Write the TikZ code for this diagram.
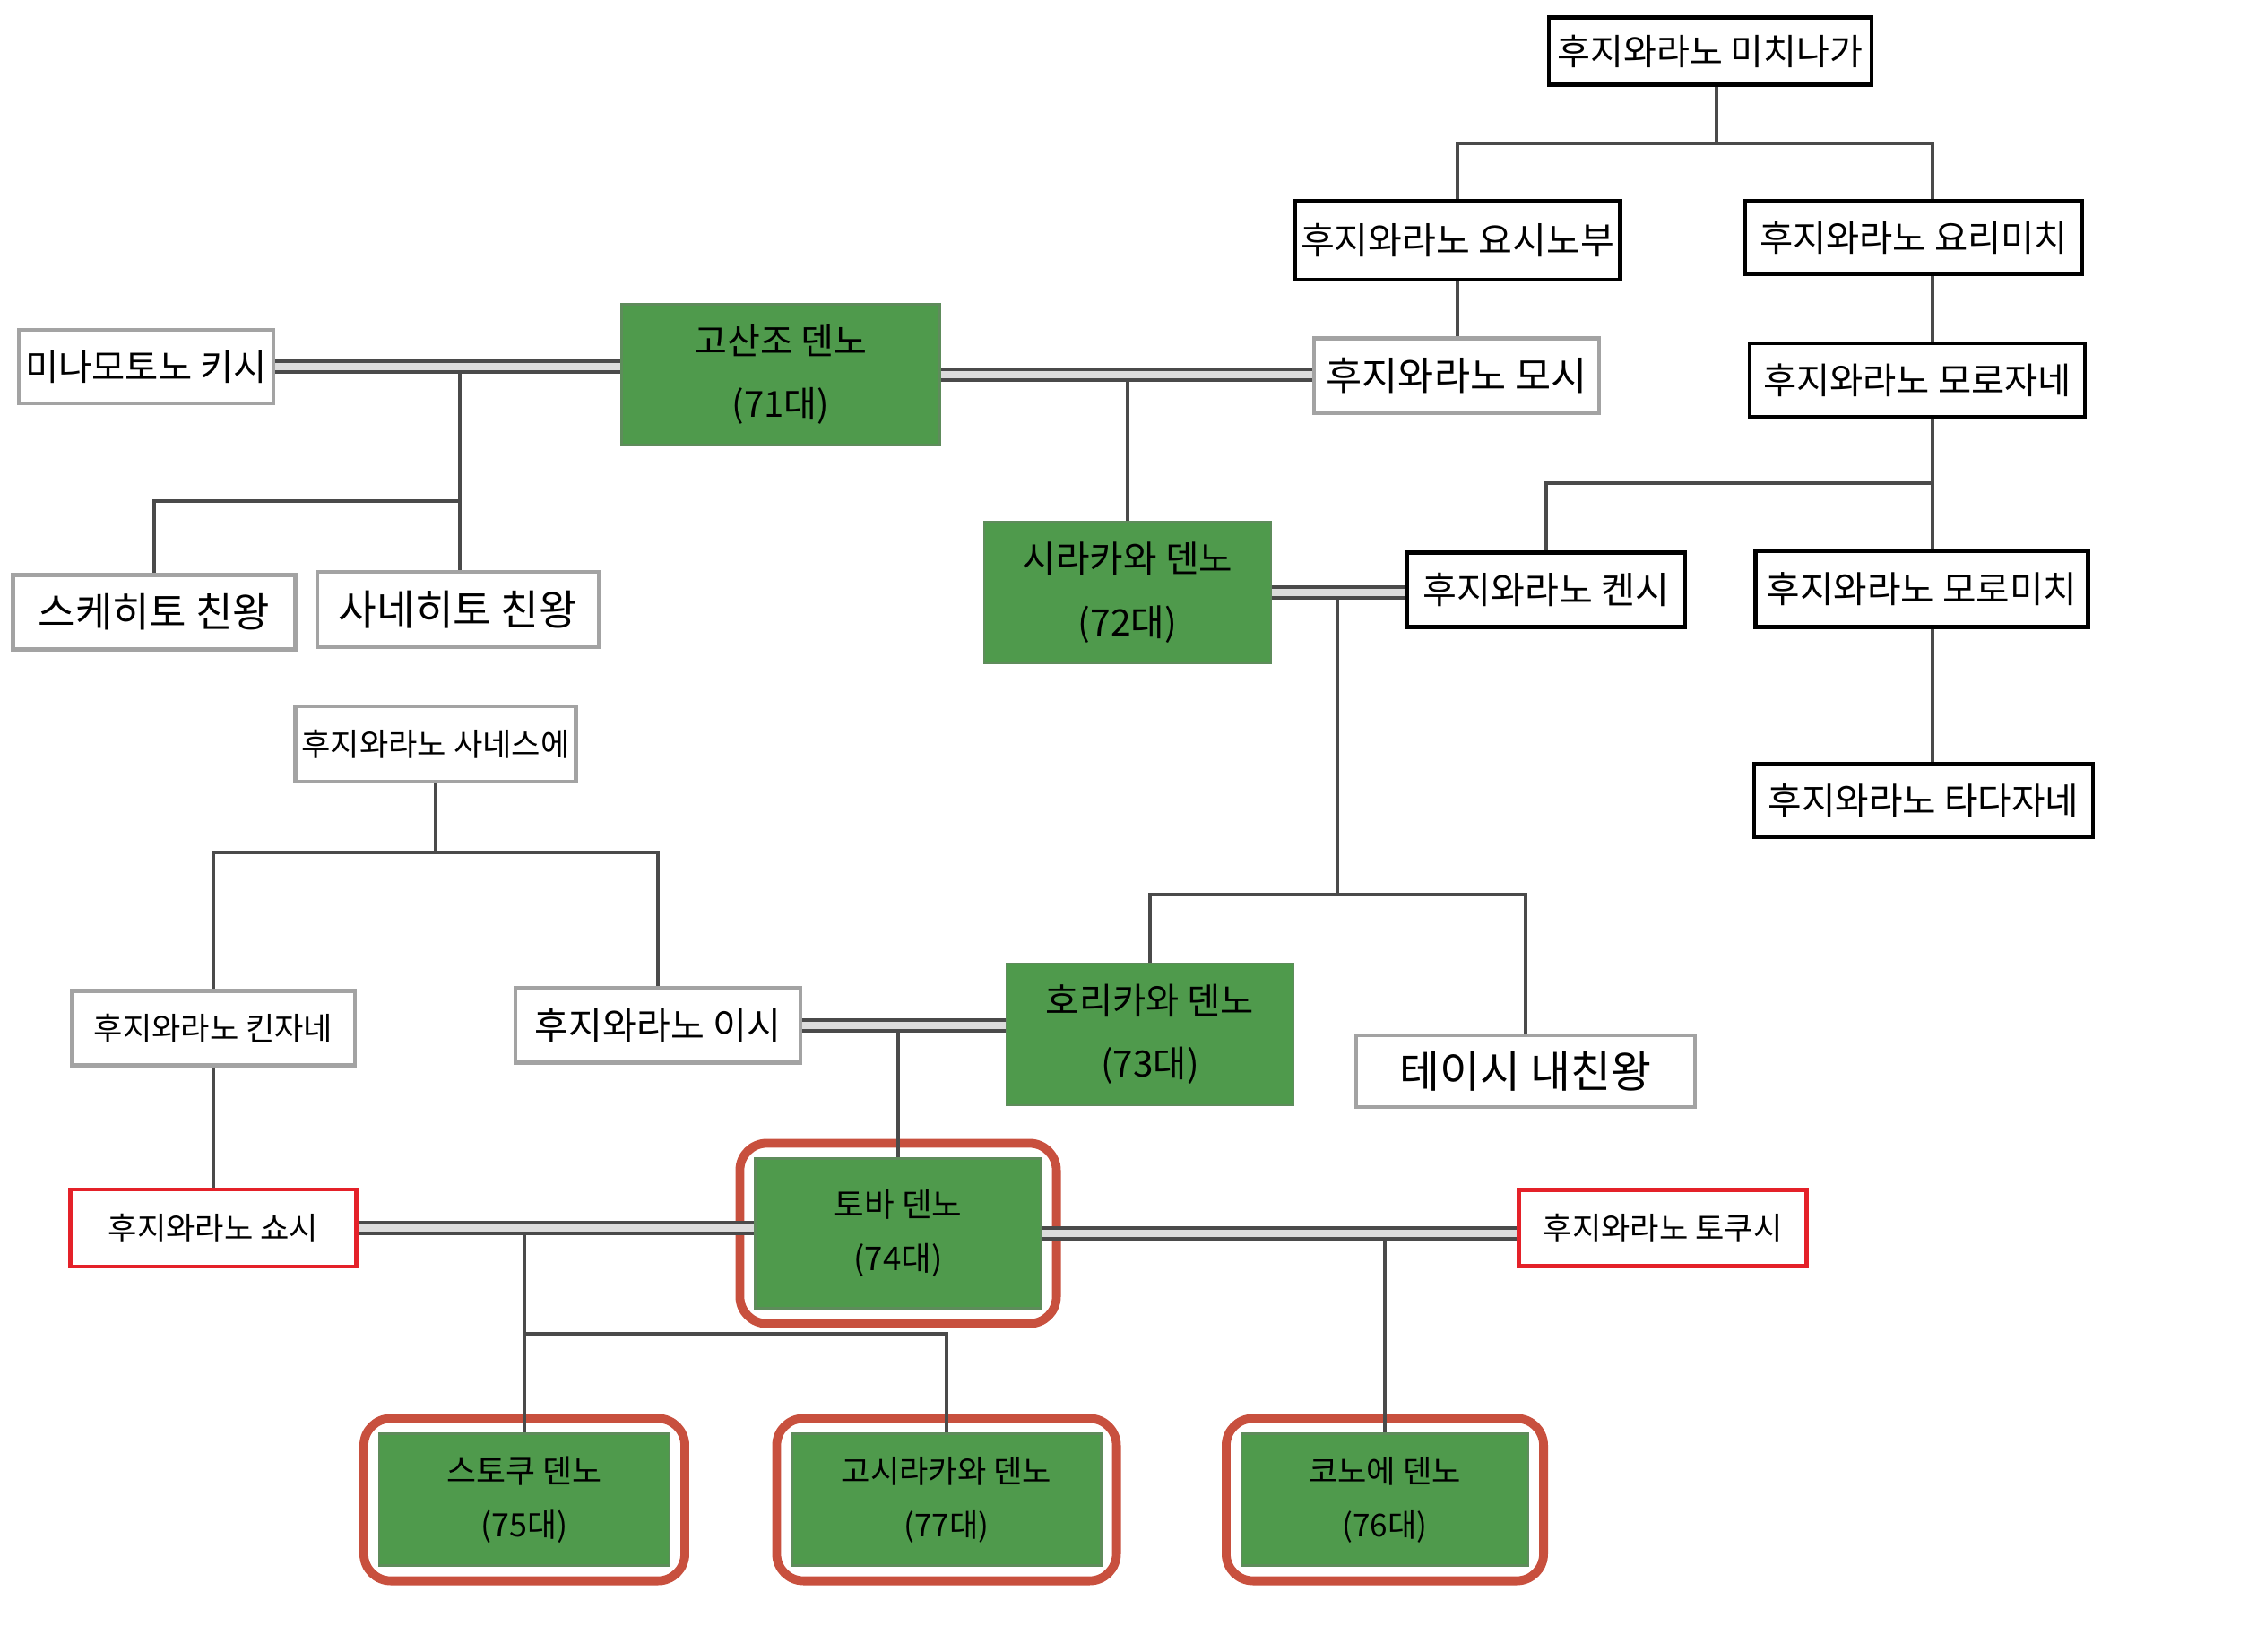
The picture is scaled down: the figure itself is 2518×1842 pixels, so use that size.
\documentclass[tikz,border=0pt]{standalone}
\usepackage{fontspec}
\setmainfont{Noto Sans CJK KR}
\usetikzlibrary{fit}
\definecolor{leaf}{HTML}{4F9A4C}
\definecolor{leafedge}{HTML}{5E8C5B}
\definecolor{ringred}{HTML}{C8503E}
\definecolor{boxred}{HTML}{E42129}
\definecolor{boxgray}{HTML}{A3A3A3}
\definecolor{linegray}{HTML}{4A4A4A}
\definecolor{gapgray}{HTML}{DCDCDC}
\tikzset{
  blackbox/.style={draw=black,line width=1.3pt,fill=white,inner sep=0pt},
  graybox/.style={draw=boxgray,line width=1.2pt,fill=white,inner sep=0pt},
  redbox/.style={draw=boxred,line width=1.2pt,fill=white,inner sep=0pt},
  emperor/.style={draw=leafedge,line width=0.6pt,fill=leaf,inner sep=0pt,align=center},
  ring/.style={draw=ringred,line width=2.8pt,rounded corners=0.3cm,inner sep=0.16cm},
  kin/.style={draw=linegray,line width=0.9pt},
  wed/.style={draw=linegray,line width=1pt,double=gapgray,double distance=2.4pt}
}

\begin{document}
\begin{tikzpicture}[x=0.01cm,y=-0.01cm]
\path[use as bounding box] (0,0) rectangle (2518,1842);
% Fujiwara
\foreach \n/\x/\y/\w/\h/\s/\t in {
michinaga/1908/57/360/75/11.4/후지와라노 미치나가,
yoshinobu/1626/268/363/88/11.7/후지와라노 요시노부,
yorimichi/2135/265/376/82/11.5/후지와라노 요리미치,
morozane/2139/424/374/82/11.5/후지와라노 모로자네,
kenshi/1725/658/310/83/11.7/후지와라노 켄시,
moromichi/2144/657/371/85/11.6/후지와라노 모로미치,
tadazane/2146/893/378/81/11.6/후지와라노 타다자네}
{
\node[blackbox,minimum width=\w*0.01cm,minimum height=\h*0.01cm,font=\fontsize{\s}{\s}\selectfont] (\n) at (\x,\y) {\t};
}
\foreach \n/\x/\y/\w/\h/\s/\t in {
kishi/163/409/284/82/11.5/미나모토노 키시,
moshi/1625/419/318/83/12.4/후지와라노 모시,
sukehito/172/683/315/83/12.8/스케히토 친왕,
sanehito/511/680/314/84/13.2/사네히토 친왕,
sanesue/486/830/313/84/10/후지와라노 사네스에,
kinzane/238/1147/316/83/10/후지와라노 킨자네,
ishi/734/1144/318/83/11.7/후지와라노 이시,
teishi/1702/1195/378/80/13.9/테이시 내친왕}
{
\node[graybox,minimum width=\w*0.01cm,minimum height=\h*0.01cm,font=\fontsize{\s}{\s}\selectfont] (\n) at (\x,\y) {\t};
}
\foreach \n/\x/\y/\w/\h/\s/\t in {
shoshi/238/1370/319/86/10/후지와라노 쇼시,
tokushi/1855/1370/321/85/10/후지와라노 토쿠시}
{
\node[redbox,minimum width=\w*0.01cm,minimum height=\h*0.01cm,font=\fontsize{\s}{\s}\selectfont] (\n) at (\x,\y) {\t};
}
% emperors
\foreach \n/\x/\y/\w/\h/\s/\b/\t/\g in {
gosanjo/871/418/355/157/11.4/20/고산조 덴노/71,
shirakawa/1258/661/320/158/11.6/20/시라카와 덴노/72,
horikawa/1283/1154/320/158/11.5/20/호리카와 덴노/73}
{
\node[emperor,minimum width=\w*0.01cm,minimum height=\h*0.01cm,font=\fontsize{\s}{\b}\selectfont] (\n) at (\x,\y) {\t\\({\g}대)};
}
\foreach \n/\x/\y/\w/\h/\s/\b/\t/\g in {
toba/1002/1376/319/167/10.4/17/토바 덴노/74,
sutoku/585/1673/324/147/10.2/17/스토쿠 덴노/75,
goshirakawa/1056/1673/345/147/10/17/고시라카와 덴노/77,
konoe/1545/1673/320/147/10/17/코노에 덴노/76}
{
\node[emperor,minimum width=\w*0.01cm,minimum height=\h*0.01cm,font=\fontsize{\s}{\b}\selectfont] (\n) at (\x,\y) {\t\\({\g}대)};
\node[ring,fit=(\n)] (\n-ring) {};
}
% kinship lines
\coordinate (michi-j) at (1915,160);
\coordinate (spine) at (2156,539);
\draw[kin] (michinaga.south -| michi-j) -- (michi-j);
\draw[kin] (yoshinobu.north) |- (michi-j) -| (yorimichi.north -| spine);
\draw[kin] (yoshinobu.south) -- (yoshinobu.south |- moshi.north);
\draw[kin] (yorimichi.south -| spine) -- (morozane.north -| spine);
\draw[kin] (morozane.south -| spine) -- (moromichi.north -| spine);
\draw[kin] (moromichi.south -| spine) -- (tadazane.north -| spine);
\draw[kin] (spine) -| (kenshi.north);

\coordinate (sanjo-j) at (513,559);
\draw[kin] (sanjo-j |- kishi.east) -- (sanjo-j) -| (sukehito.north);
\draw[kin] (sanjo-j) -- (sanjo-j |- sanehito.north);
\draw[kin] (gosanjo.east -| shirakawa.north) -- (shirakawa.north);

\coordinate (shira-j) at (1492,998);
\draw[kin] (shira-j |- shirakawa.east) -- (shira-j);
\draw[kin] (horikawa.north) |- (shira-j) -| (teishi.north);

\coordinate (sane-j) at (487,951);
\draw[kin] (sanesue.south) -- (sanesue.south |- sane-j);
\draw[kin] (kinzane.north) |- (sane-j) -| (ishi.north);
\draw[kin] (kinzane.south) -- (kinzane.south |- shoshi.north);
\draw[kin] (toba.north |- ishi.east) -- (toba.north);

\coordinate (toba-j) at (585,1488);
\draw[kin] (toba-j |- shoshi.east) -- (sutoku.north);
\draw[kin] (toba-j) -| (goshirakawa.north);
\draw[kin] (konoe.north |- toba.east) -- (konoe.north);
% marriages
\draw[wed] (kishi.east) -- (kishi.east -| gosanjo.west);
\draw[wed] (gosanjo.east) -- (gosanjo.east -| moshi.west);
\draw[wed] (shirakawa.east) -- (shirakawa.east -| kenshi.west);
\draw[wed] (ishi.east) -- (ishi.east -| horikawa.west);
\draw[wed] (shoshi.east) -- (shoshi.east -| toba.west);
\draw[wed] (toba.east) -- (toba.east -| tokushi.west);
\end{tikzpicture}
\end{document}
